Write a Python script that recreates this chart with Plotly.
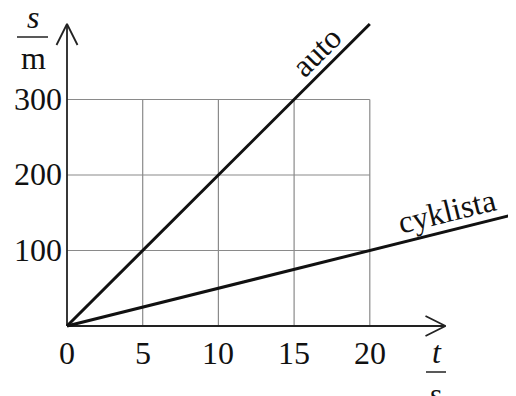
import plotly.graph_objects as go

# ---- data ----
t_auto = [0, 20]
s_auto = [0, 400]
t_cyklista = [0, 30]
s_cyklista = [0, 150]
x_ticks = [0, 5, 10, 15, 20]
y_ticks = [100, 200, 300]
x_axis_end = 25
y_axis_end = 400
grid_x_max = 20
grid_y_max = 300

# page has an 8px body margin; the figure sits at (8, 8)
OFF = 8
W, H = 516 - OFF, 396 - OFF
ox, oy = 67 - OFF, 326 - OFF   # origin in figure pixels
kx, ky = 15.14, 0.755          # pixels per unit
x_range = [-ox / kx, (W - ox) / kx]
y_range = [-(H - oy) / ky, oy / ky]

def px2x(p): return (p - OFF - ox) / kx      # page px -> data x
def py2y(p): return (oy - (p - OFF)) / ky    # page px -> data y

FONT = "Liberation Serif"
fs = 32
INK = "#111"
fig = go.Figure()

# grid
gx, gy = [], []
for xv in x_ticks[1:]:
    gx += [xv, xv, None]; gy += [0, grid_y_max, None]
for yv in y_ticks:
    gx += [0, grid_x_max, None]; gy += [yv, yv, None]
fig.add_trace(go.Scatter(x=gx, y=gy, mode="lines", line=dict(color="#8a8a8a", width=1.2),
                         hoverinfo="skip", showlegend=False))

# axes with open arrowheads
ax_len_x, ax_w_y = 20 / kx, 10 / ky
ay_len_y, ay_w_x = 21 / ky, 10.5 / kx
axx = [0, x_axis_end, None, x_axis_end - ax_len_x, x_axis_end, x_axis_end - ax_len_x]
axy = [0, 0, None, ax_w_y, 0, -ax_w_y]
fig.add_trace(go.Scatter(x=axx, y=axy, mode="lines", line=dict(color="#222", width=1.8),
                         hoverinfo="skip", showlegend=False))
ayx = [0, 0, None, -ay_w_x, 0, ay_w_x]
ayy = [0, y_axis_end, None, y_axis_end - ay_len_y, y_axis_end, y_axis_end - ay_len_y]
fig.add_trace(go.Scatter(x=ayx, y=ayy, mode="lines", line=dict(color="#222", width=1.8),
                         hoverinfo="skip", showlegend=False))

# data lines
fig.add_trace(go.Scatter(x=t_auto, y=s_auto, mode="lines", line=dict(color=INK, width=3),
                         name="auto", showlegend=False))
fig.add_trace(go.Scatter(x=t_cyklista, y=s_cyklista, mode="lines", line=dict(color=INK, width=3),
                         name="cyklista", showlegend=False))

ann = []
for xv in x_ticks:
    ann.append(dict(x=xv, y=0, text=str(xv), showarrow=False, xanchor="center", yanchor="middle",
                    yshift=-27, font=dict(family=FONT, size=fs, color=INK)))
for yv in y_ticks:
    ann.append(dict(x=0, y=yv, text=str(yv), showarrow=False, xanchor="right", yanchor="middle",
                    xshift=-3, yshift=1, font=dict(family=FONT, size=fs, color=INK)))

# unit labels  s/m and t/s
ann.append(dict(x=px2x(33), y=py2y(17), text="<i>s</i>", showarrow=False, xanchor="center", yanchor="middle",
                font=dict(family=FONT, size=fs, color=INK)))
ann.append(dict(x=px2x(33), y=py2y(58), text="m", showarrow=False, xanchor="center", yanchor="middle",
                font=dict(family=FONT, size=fs, color=INK)))
ann.append(dict(x=px2x(437), y=py2y(352), text="<i>t</i>", showarrow=False, xanchor="center", yanchor="middle",
                font=dict(family=FONT, size=fs, color=INK)))
ann.append(dict(x=px2x(436), y=py2y(394), text="s", showarrow=False, xanchor="center", yanchor="middle",
                font=dict(family=FONT, size=fs, color=INK)))

# line labels
ann.append(dict(x=px2x(316), y=py2y(52), text="auto", showarrow=False, textangle=-45,
                xanchor="center", yanchor="middle", font=dict(family=FONT, size=fs, color=INK)))
ann.append(dict(x=px2x(447), y=py2y(211), text="cyklista", showarrow=False, textangle=-14,
                xanchor="center", yanchor="middle", font=dict(family=FONT, size=fs, color=INK)))

shapes = [
    dict(type="line", xref="x", yref="y", x0=px2x(17), x1=px2x(48), y0=py2y(37), y1=py2y(37),
         line=dict(color="#222", width=1.5)),
    dict(type="line", xref="x", yref="y", x0=px2x(426), x1=px2x(446), y0=py2y(372), y1=py2y(372),
         line=dict(color="#222", width=1.5)),
]

fig.update_layout(
    width=W, height=H, margin=dict(l=0, r=0, t=0, b=0),
    paper_bgcolor="white", plot_bgcolor="white",
    xaxis=dict(range=x_range, visible=False, fixedrange=True),
    yaxis=dict(range=y_range, visible=False, fixedrange=True),
    annotations=ann, shapes=shapes,
)
fig.write_html("out.html")
